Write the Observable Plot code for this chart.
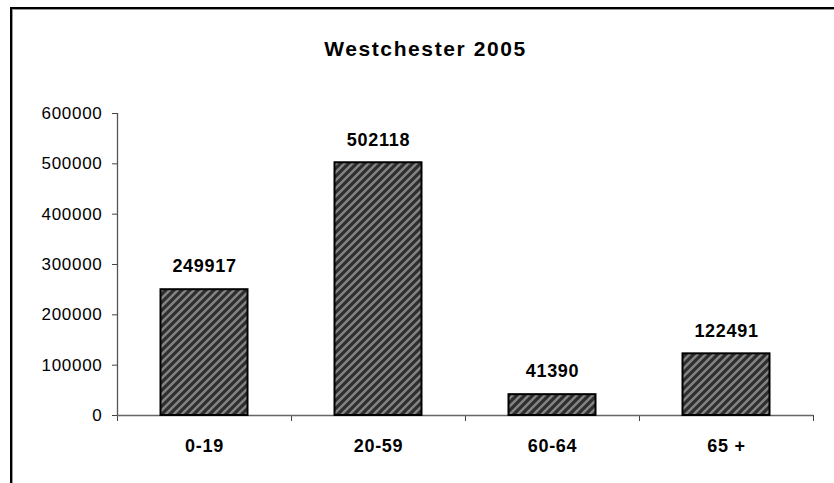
<!DOCTYPE html>
<html>
<head>
<meta charset="utf-8">
<script src="https://cdn.jsdelivr.net/npm/d3@7"></script>
<script src="https://cdn.jsdelivr.net/npm/@observablehq/plot@0.6"></script>
<style>
  html, body { margin: 0; padding: 0; background: #fff; overflow: hidden; }
  #wrap { position: relative; width: 834px; height: 483px; }
  #frame { position: absolute; left: 10px; top: 7px; width: 1000px; height: 1000px;
           border-left: 2px solid #000; border-top: 2px solid #000;
           box-shadow: inset 1px 1px 0 #999; }
  #title { position: absolute; left: 0; width: 851px; top: 37px; text-align: center;
           font: bold 21px "Liberation Sans", Arial, sans-serif; letter-spacing: 1.6px; color: #000; }
  #chart { position: absolute; left: 0; top: 0; }
  svg text { letter-spacing: 0.7px; }
</style>
</head>
<body>
<div id="wrap">
  <div id="frame"></div>
  <div id="title">Westchester 2005</div>
  <div id="chart"></div>
</div>
<script>
const categories = ["0-19", "20-59", "60-64", "65 +"];
const values = [249917, 502118, 41390, 122491];
const yTicks = [0, 100000, 200000, 300000, 400000, 500000, 600000];

const data = categories.map((c, i) => ({i, c, v: values[i]}));
const bounds = d3.range(-0.5, categories.length, 1);

const chart = Plot.plot({
  width: 834,
  height: 483,
  marginLeft: 117,
  marginRight: 21,
  marginTop: 113,
  marginBottom: 68,
  style: {fontFamily: '"Liberation Sans", Arial, sans-serif', background: "transparent", color: "#000"},
  x: {type: "linear", domain: [-0.5, categories.length - 0.5], axis: null, label: null},
  y: {domain: [0, 600000], axis: null, label: null},
  marks: [
    Plot.axisY({ticks: yTicks, tickSize: 5, tickPadding: 10, tickFormat: d3.format("d"), fontSize: 17, stroke: "#444", fill: "#000", label: null}),
    Plot.axisX({ticks: bounds, tickSize: 6, tickFormat: () => "", stroke: "#444", label: null}),
    Plot.ruleX([-0.5], {stroke: "#555", strokeWidth: 1.3}),
    Plot.ruleY([0], {stroke: "#666", strokeWidth: 1.6}),
    Plot.rect(data, {x1: d => d.i - 0.25, x2: d => d.i + 0.25, y1: 0, y2: "v", fill: "url(#hatch)", stroke: "#000", strokeWidth: 2}),
    Plot.text(data, {x: "i", y: "v", text: d => String(d.v), dy: -23, fontSize: 18, fontWeight: "bold", fill: "#000"}),
    Plot.text(data, {x: "i", y: 0, text: "c", dy: 31, fontSize: 18, fontWeight: "bold", fill: "#000"})
  ]
});

const ns = "http://www.w3.org/2000/svg";
const defs = document.createElementNS(ns, "defs");
const pat = document.createElementNS(ns, "pattern");
pat.setAttribute("id", "hatch");
pat.setAttribute("patternUnits", "userSpaceOnUse");
pat.setAttribute("width", "8");
pat.setAttribute("height", "8");
const bg = document.createElementNS(ns, "rect");
bg.setAttribute("width", "8"); bg.setAttribute("height", "8"); bg.setAttribute("fill", "#848484");
const ln = document.createElementNS(ns, "path");
ln.setAttribute("d", "M-2,10 L10,-2 M-6,6 L6,-6 M2,14 L14,2");
ln.setAttribute("stroke", "#2e2e2e"); ln.setAttribute("stroke-width", "3.2");
pat.appendChild(bg); pat.appendChild(ln); defs.appendChild(pat);
chart.insertBefore(defs, chart.firstChild);

document.getElementById("chart").appendChild(chart);
</script>
</body>
</html>
